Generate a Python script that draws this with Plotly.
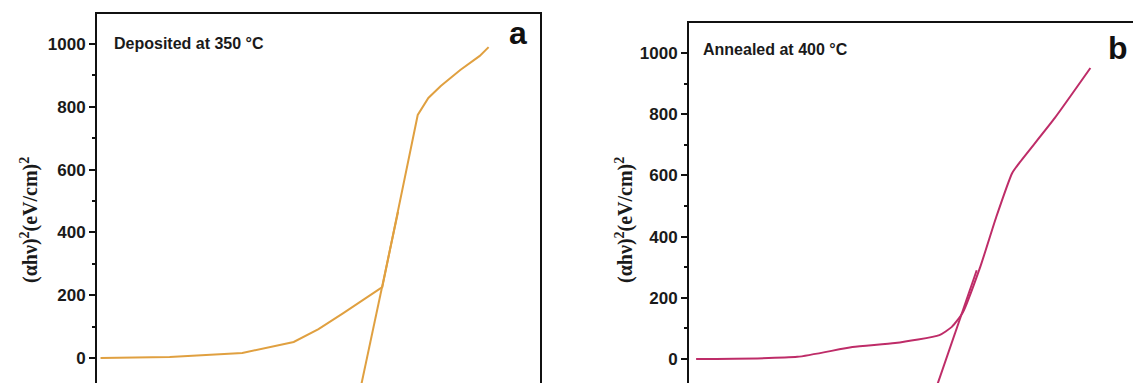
import plotly.graph_objects as go

# Tauc plot data: photon energy (eV) vs (alpha*h*nu)^2
energy_a = [1.52, 1.91, 2.32, 2.61, 2.75, 2.89, 3.11, 3.21, 3.31, 3.37, 3.44, 3.55, 3.66, 3.71]
tauc_a = [0, 3, 16, 51, 92, 143, 226, 496, 774, 828, 866, 917, 962, 990]
fit_energy_a = [2.967, 3.199]
fit_tauc_a = [-150, 466]

energy_b = [1.54, 2.11, 2.42, 2.66, 2.91, 2.98, 3.04, 3.14, 3.23, 3.32, 3.36, 3.56, 3.76]
tauc_b = [0, 7, 39, 52, 78, 105, 150, 301, 464, 608, 641, 788, 951]
fit_energy_b = [2.859, 3.120]
fit_tauc_b = [-150, 290]

y_ticks = [0, 200, 400, 600, 800, 1000]
labels = ["Deposited at 350 °C", "Annealed at 400 °C"]
panel_tags = ["a", "b"]

color_a = "#E0A040"
color_b = "#BE2C68"
W, H = 1133, 383

fig = go.Figure()
fig.add_trace(go.Scatter(x=energy_a, y=tauc_a, mode="lines",
                         line=dict(color=color_a, width=2), xaxis="x", yaxis="y"))
fig.add_trace(go.Scatter(x=fit_energy_a, y=fit_tauc_a, mode="lines",
                         line=dict(color=color_a, width=2), xaxis="x", yaxis="y"))
fig.add_trace(go.Scatter(x=energy_b, y=tauc_b, mode="lines",
                         line=dict(color=color_b, width=2, shape="spline", smoothing=0.5),
                         xaxis="x2", yaxis="y2"))
fig.add_trace(go.Scatter(x=fit_energy_b, y=fit_tauc_b, mode="lines",
                         line=dict(color=color_b, width=2), xaxis="x2", yaxis="y2"))

tick_font = dict(family="Arial, Liberation Sans", size=17, color="#1a1a1a")

common_y = dict(
    showgrid=False, zeroline=False, showline=True, linecolor="#111", linewidth=2,
    ticks="outside", ticklen=6, tickwidth=2, tickcolor="#111",
    tickvals=y_ticks, ticktext=[f"<b>{v}</b>" for v in y_ticks], tickfont=tick_font,
    minor=dict(ticks="outside", ticklen=3, tickwidth=2, tickcolor="#111", dtick=100),
)
common_x = dict(
    showgrid=False, zeroline=False, showline=True, linecolor="#111", linewidth=2,
    side="top", ticks="", showticklabels=False, range=[1.5, 4.0],
)

fig.update_layout(
    width=W, height=H, margin=dict(l=0, r=0, t=0, b=0),
    paper_bgcolor="white", plot_bgcolor="white", showlegend=False,
    xaxis=dict(domain=[97 / W, 540 / W], anchor="y", **common_x),
    yaxis=dict(domain=[0, 1 - 14 / H], anchor="x", range=[-79.6, 1095.5],
               mirror=True, **common_y),
    xaxis2=dict(domain=[689 / W, 1.0], anchor="y2", **common_x),
    yaxis2=dict(domain=[0, 1 - 23 / H], anchor="x2", range=[-78.4, 1098],
                **common_y),
)

ann_font = dict(family="Arial, Liberation Sans", size=16, color="#1a1a1a")
title_font = dict(family="Liberation Serif, Times New Roman, serif", size=20, color="#1a1a1a")
ytitle = "<b>(αhν)<sup>2</sup>(eV/cm)<sup>2</sup></b>"

for xpos, ypos, txt in [(112, 43, labels[0]), (701, 50, labels[1])]:
    fig.add_annotation(x=xpos / W, y=1 - ypos / H, xref="paper", yref="paper",
                       text=f"<b>{txt}</b>", showarrow=False, xanchor="left",
                       yanchor="middle", font=ann_font)

for xpos, ypos, txt in [(518, 33, panel_tags[0]), (1118, 48, panel_tags[1])]:
    fig.add_annotation(x=xpos / W, y=1 - ypos / H, xref="paper", yref="paper",
                       text=f"<b>{txt}</b>", showarrow=False, xanchor="center",
                       yanchor="middle",
                       font=dict(family="Arial, Liberation Sans", size=32, color="#111"))

for xpos in [29, 624]:
    fig.add_annotation(x=xpos / W, y=1 - 220 / H, xref="paper", yref="paper",
                       text=ytitle, showarrow=False, textangle=-90,
                       xanchor="center", yanchor="middle", font=title_font)

fig.write_html("out.html")
